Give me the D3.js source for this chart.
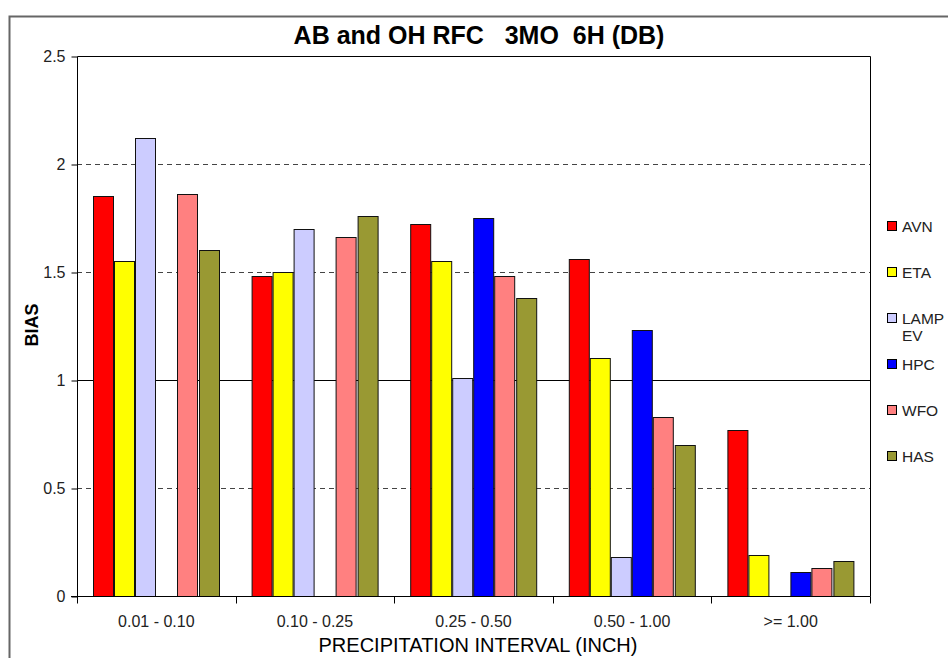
<!DOCTYPE html>
<html>
<head>
<meta charset="utf-8">
<script src="https://cdn.jsdelivr.net/npm/d3@7"></script>
<style>
  body { margin: 0; background: #fff; }
  text { font-family: "Liberation Sans", Arial, sans-serif; }
</style>
</head>
<body>
<script>
// datos
const categories = ["0.01 - 0.10", "0.10 - 0.25", "0.25 - 0.50", "0.50 - 1.00", ">= 1.00"];
const series = ["AVN", "ETA", "LAMP EV", "HPC", "WFO", "HAS"];
const avn  = [1.85, 1.48, 1.72, 1.56, 0.77];
const eta  = [1.55, 1.50, 1.55, 1.10, 0.19];
const lamp = [2.12, 1.70, 1.01, 0.18, null];
const hpc  = [null, null, 1.75, 1.23, 0.11];
const wfo  = [1.86, 1.66, 1.48, 0.83, 0.13];
const has  = [1.60, 1.76, 1.38, 0.70, 0.16];
const colors = ["#ff0000", "#ffff00", "#ccccff", "#0000ff", "#ff8080", "#999933"];
const yTicks = [0, 0.5, 1, 1.5, 2, 2.5];

const values = [avn, eta, lamp, hpc, wfo, has];

let width = 948, height = 658;
let plotLeft = 77, plotRight = 870, plotTop = 56, plotBottom = 596;

let svg = d3.select("body").append("svg")
  .attr("width", width)
  .attr("height", height);

svg.append("rect").attr("width", width).attr("height", height).attr("fill", "#fff");

// borde exterior del grafico
svg.append("rect")
  .attr("x", 9.5).attr("y", 16.5)
  .attr("width", 960).attr("height", 700)
  .attr("fill", "none")
  .attr("stroke", "#666")
  .attr("stroke-width", 2);

let x = d3.scaleBand().domain(categories).range([plotLeft, plotRight]);
let xs = d3.scaleBand().domain(series).range([0, x.bandwidth()]).paddingOuter(0.75);
let y = d3.scaleLinear().domain([0, 2.5]).range([plotBottom, plotTop]);

// lineas de cuadricula
svg.append("g").selectAll("line")
  .data(yTicks.filter(t => t > 0 && t < 2.5))
  .enter().append("line")
  .attr("x1", plotLeft).attr("x2", plotRight)
  .attr("y1", d => Math.round(y(d)) + 0.5).attr("y2", d => Math.round(y(d)) + 0.5)
  .attr("stroke", d => d === 1 ? "#000" : "#444")
  .attr("stroke-dasharray", d => d === 1 ? null : "5,4");

// barras
let groups = svg.append("g").selectAll("g")
  .data(categories)
  .enter().append("g")
  .attr("transform", d => "translate(" + x(d) + ",0)");

groups.selectAll("rect")
  .data((c, i) => series.map((s, j) => ({ s: s, j: j, v: values[j][i] })).filter(d => d.v != null))
  .enter().append("rect")
  .attr("x", d => Math.round(xs(d.s)) + 0.5)
  .attr("width", Math.round(xs.bandwidth()) - 1)
  .attr("y", d => Math.round(y(d.v)) + 0.5)
  .attr("height", d => Math.round(y(0)) - Math.round(y(d.v)))
  .attr("fill", d => colors[d.j])
  .attr("stroke", "#111")
  .attr("stroke-width", 1);

// marco del area de trazado
svg.append("path")
  .attr("d", "M" + (plotLeft + 0.5) + "," + (plotBottom + 0.5) + "V" + (plotTop + 0.5) + "H" + (plotRight + 0.5) + "V" + (plotBottom + 0.5))
  .attr("fill", "none")
  .attr("stroke", "#000");

// ejes
let yAxis = svg.append("g")
  .attr("transform", "translate(" + (plotLeft + 0.5) + ",0.5)")
  .call(d3.axisLeft(y).tickValues(yTicks).tickFormat(d3.format("")).tickSize(6).tickSizeOuter(0).tickPadding(6));
yAxis.select(".domain").remove();
yAxis.selectAll("text").attr("font-size", 16).attr("fill", "#222").style("font-family", "Liberation Sans, Arial, sans-serif");

let xAxis = svg.append("g")
  .attr("transform", "translate(0," + (plotBottom + 0.5) + ")");
xAxis.append("line")
  .attr("x1", plotLeft - 6).attr("x2", plotRight + 0.5)
  .attr("stroke", "#000");
xAxis.selectAll("line.tick")
  .data(d3.range(categories.length + 1))
  .enter().append("line")
  .attr("class", "tick")
  .attr("x1", i => Math.round(plotLeft + i * x.step()) + 0.5)
  .attr("x2", i => Math.round(plotLeft + i * x.step()) + 0.5)
  .attr("y1", 0).attr("y2", 7)
  .attr("stroke", "#000");
xAxis.selectAll("text")
  .data(categories)
  .enter().append("text")
  .attr("x", d => x(d) + x.bandwidth() / 2)
  .attr("y", 30)
  .attr("text-anchor", "middle")
  .attr("font-size", 16)
  .attr("fill", "#222")
  .text(d => d);

// titulos
svg.append("text")
  .attr("x", 479).attr("y", 44)
  .attr("text-anchor", "middle")
  .attr("font-size", 25)
  .attr("font-weight", "bold")
  .style("white-space", "pre")
  .attr("xml:space", "preserve")
  .text("AB and OH RFC   3MO  6H (DB)");

svg.append("text")
  .attr("x", 478).attr("y", 652)
  .attr("text-anchor", "middle")
  .attr("font-size", 20)
  .text("PRECIPITATION INTERVAL (INCH)");

svg.append("text")
  .attr("transform", "translate(38,325) rotate(-90)")
  .attr("text-anchor", "middle")
  .attr("font-size", 18)
  .attr("font-weight", "bold")
  .text("BIAS");

// leyenda
let legend = svg.append("g").selectAll("g")
  .data(series)
  .enter().append("g")
  .attr("transform", (d, i) => "translate(887," + (226 + i * 46) + ")");

legend.append("rect")
  .attr("x", 0.5).attr("y", -4.5)
  .attr("width", 9).attr("height", 9)
  .attr("fill", (d, i) => colors[i])
  .attr("stroke", "#000");

legend.append("text")
  .attr("x", 15).attr("y", 5.5)
  .attr("font-size", 15.5)
  .attr("fill", "#222")
  .selectAll("tspan")
  .data(d => d.split(" "))
  .enter().append("tspan")
  .attr("x", 15)
  .attr("dy", (d, i) => i === 0 ? 0 : 17)
  .text(d => d);
</script>
</body>
</html>
